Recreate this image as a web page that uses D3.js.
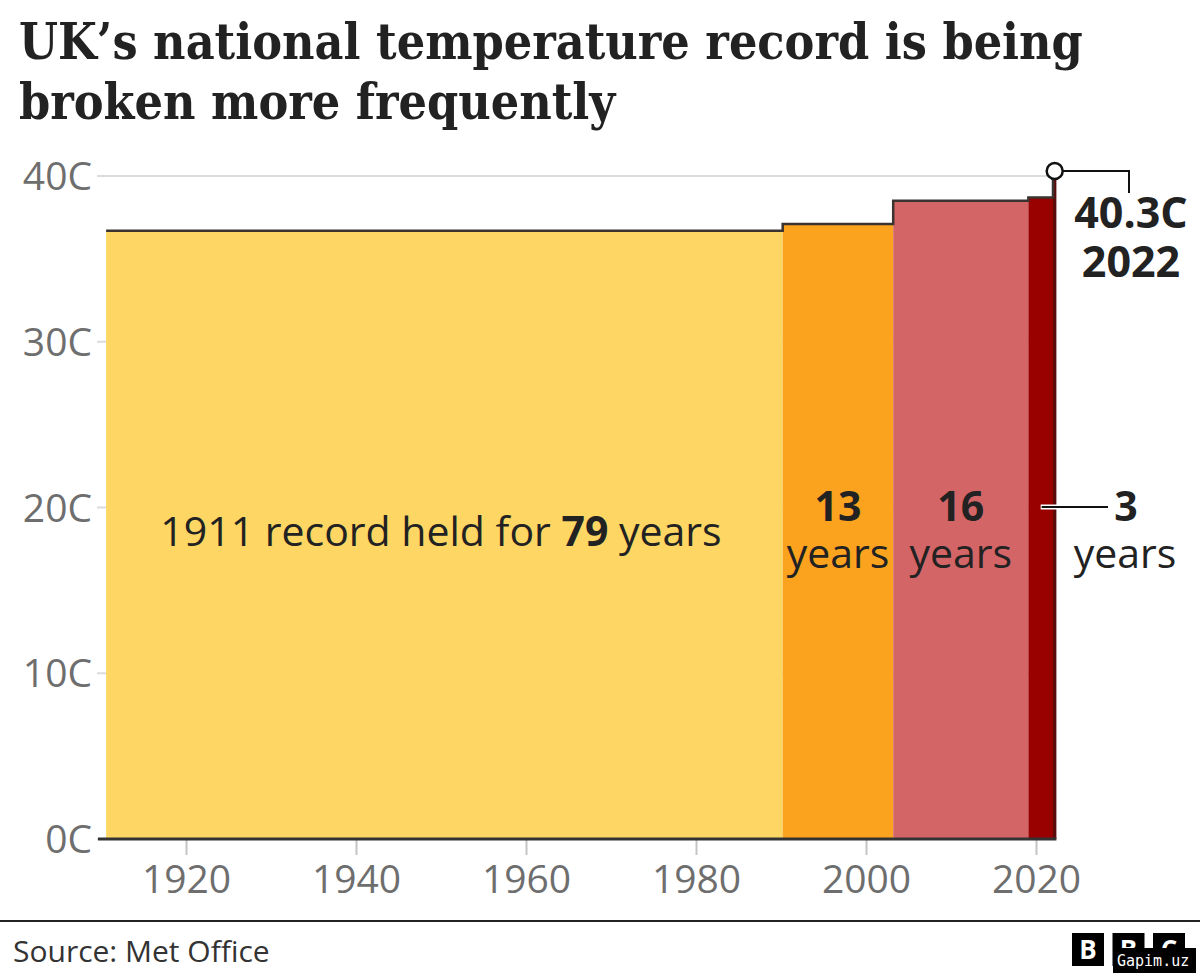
<!DOCTYPE html>
<html>
<head>
<meta charset="utf-8">
<script src="https://cdn.jsdelivr.net/npm/d3@7"></script>
<style>
  body { margin: 0; background: #fff; }
  svg text { font-family: "Open Sans", "Noto Sans", sans-serif; }
</style>
</head>
<body>
<div id="chart"></div>
<script>
// record dates as placed on the chart (decimal years), temps in C
const recordYears = [1910.6, 1990.2, 2003.2, 2019.1, 2022.0];
const recordTemps = [36.7, 37.1, 38.5, 38.7, 40.3];
const heldYears = ["79", "13", "16", "3"];
const endYear = 2022.4;
const blockColors = ["#fdd663", "#fba21f", "#d46567", "#990000", "#5c0b0b"];
const yTicks = [0, 10, 20, 30, 40];
const xTicks = [1920, 1940, 1960, 1980, 2000, 2020];

const width = 1200, height = 978;

const svg = d3.select("#chart")
  .append("svg")
  .attr("width", width)
  .attr("height", height);

const x = d3.scaleLinear().domain([1920, 2020]).range([186, 1036]);
const y = d3.scaleLinear().domain([0, 40]).range([839, 176]);

// title
const title = svg.append("g").attr("class", "title");
const titleLines = ["UK\u2019s national temperature record is being", "broken more frequently"];
titleLines.forEach(function(t, i) {
  title.append("text")
    .attr("x", 19)
    .attr("y", 59 + i * 60)
    .attr("fill", "#222")
    .style("font-family", "'DejaVu Serif Condensed', 'DejaVu Serif', serif")
    .style("font-weight", "bold")
    .style("font-size", "46px")
    .text(t);
});
// fit first line to the width it has in the original
const tLen = title.select("text").node().getComputedTextLength();
title.selectAll("text").style("font-size", (46 * 1064 / tLen) + "px");

// gridlines + y labels
svg.append("g")
  .selectAll("line")
  .data(yTicks)
  .enter()
  .append("line")
    .attr("x1", 97)
    .attr("x2", 1050)
    .attr("y1", d => y(d))
    .attr("y2", d => y(d))
    .attr("stroke", "#dcdcdc")
    .attr("stroke-width", 2);

svg.append("g")
  .selectAll("text")
  .data(yTicks)
  .enter()
  .append("text")
    .attr("x", 92)
    .attr("y", d => y(d) + 14)
    .attr("text-anchor", "end")
    .attr("fill", "#6e6e6e")
    .style("font-size", "39px")
    .text(d => d + "C");

// blocks
const blocks = recordYears.map(function(yr, i) {
  return {
    start: yr,
    end: i < recordYears.length - 1 ? recordYears[i + 1] : endYear,
    temp: recordTemps[i],
    color: blockColors[i]
  };
});

svg.append("g")
  .selectAll("rect")
  .data(blocks)
  .enter()
  .append("rect")
    .attr("x", d => x(d.start))
    .attr("width", d => x(d.end) - x(d.start))
    .attr("y", d => y(d.temp))
    .attr("height", d => y(0) - y(d.temp))
    .attr("fill", d => d.color);

// step line on top
const stepPts = blocks.map(d => [d.start, d.temp]).concat([[endYear, recordTemps[recordTemps.length - 1]]]);
svg.append("path")
  .datum(stepPts)
  .attr("fill", "none")
  .attr("stroke", "#3a3330")
  .attr("stroke-width", 2.5)
  .attr("d", d3.line().x(d => x(d[0])).y(d => y(d[1])).curve(d3.curveStepAfter));

// x axis
const xAxis = svg.append("g")
  .attr("transform", `translate(0, ${y(0)})`)
  .call(d3.axisBottom(x).tickValues(xTicks).tickFormat(d3.format("d")).tickSize(16).tickPadding(10));
xAxis.select(".domain").remove();
xAxis.selectAll(".tick line").attr("stroke", "#c4c4c4").attr("stroke-width", 2);
xAxis.selectAll(".tick text")
  .attr("fill", "#6e6e6e")
  .style("font-size", "39px")
  .style("font-family", "'Open Sans', sans-serif");

svg.append("line")
  .attr("x1", 98)
  .attr("x2", x(endYear))
  .attr("y1", y(0))
  .attr("y2", y(0))
  .attr("stroke", "#333")
  .attr("stroke-width", 3);

// annotations
const ann = svg.append("g").attr("fill", "#222");

const first = ann.append("text")
  .attr("x", 441)
  .attr("y", 546)
  .attr("text-anchor", "middle")
  .style("font-size", "41px");
first.append("tspan").text("1911 record held for ");
first.append("tspan").style("font-weight", "bold").text(heldYears[0]);
first.append("tspan").text(" years");

[1, 2].forEach(function(i) {
  const cx = (x(blocks[i].start) + x(blocks[i].end)) / 2;
  ann.append("text")
    .attr("x", cx).attr("y", 521)
    .attr("text-anchor", "middle")
    .style("font-size", "41px").style("font-weight", "bold")
    .text(heldYears[i]);
  ann.append("text")
    .attr("x", cx).attr("y", 568)
    .attr("text-anchor", "middle")
    .style("font-size", "41px")
    .text("years");
});

// 3 years leader
const redMid = (x(blocks[3].start) + x(blocks[3].end)) / 2;
svg.append("line")
  .attr("x1", redMid).attr("x2", 1108)
  .attr("y1", 507).attr("y2", 507)
  .attr("stroke", "#fff").attr("stroke-width", 5);
svg.append("line")
  .attr("x1", redMid + 1).attr("x2", 1108)
  .attr("y1", 507).attr("y2", 507)
  .attr("stroke", "#111").attr("stroke-width", 2);
ann.append("text")
  .attr("x", 1126).attr("y", 521)
  .attr("text-anchor", "middle")
  .style("font-size", "41px").style("font-weight", "bold")
  .text(heldYears[3]);
ann.append("text")
  .attr("x", 1125).attr("y", 568)
  .attr("text-anchor", "middle")
  .style("font-size", "41px")
  .text("years");

// latest record marker
const lastX = x((recordYears[4] + endYear) / 2);
const lastY = y(recordTemps[4]);
svg.append("path")
  .attr("d", `M${lastX},${lastY}H1129V193`)
  .attr("fill", "none")
  .attr("stroke", "#111")
  .attr("stroke-width", 2);
svg.append("circle")
  .attr("cx", lastX).attr("cy", lastY).attr("r", 8)
  .attr("fill", "#fff")
  .attr("stroke", "#111")
  .attr("stroke-width", 2.5);
ann.append("text")
  .attr("x", 1131).attr("y", 228)
  .attr("text-anchor", "middle")
  .style("font-size", "43px").style("font-weight", "bold")
  .text(recordTemps[4] + "C");
ann.append("text")
  .attr("x", 1131).attr("y", 277)
  .attr("text-anchor", "middle")
  .style("font-size", "43px").style("font-weight", "bold")
  .text("2022");

// footer
svg.append("line")
  .attr("x1", 0).attr("x2", width)
  .attr("y1", 921).attr("y2", 921)
  .attr("stroke", "#222").attr("stroke-width", 2);
svg.append("text")
  .attr("x", 13).attr("y", 962)
  .attr("fill", "#333")
  .style("font-size", "30px")
  .text("Source: Met Office");

const logo = svg.append("g");
["B", "B", "C"].forEach(function(l, i) {
  logo.append("rect")
    .attr("x", 1072 + i * 40.5).attr("y", 933)
    .attr("width", 32).attr("height", 33)
    .attr("fill", "#000");
  logo.append("text")
    .attr("x", 1088 + i * 40.5).attr("y", 959)
    .attr("text-anchor", "middle")
    .attr("fill", "#fff")
    .style("font-size", "26px").style("font-weight", "bold")
    .text(l);
});
logo.append("rect")
  .attr("x", 1113).attr("y", 948)
  .attr("width", 83).attr("height", 25)
  .attr("fill", "#000");
logo.append("text")
  .attr("x", 1117).attr("y", 966)
  .attr("fill", "#fff")
  .style("font-family", "'DejaVu Sans Mono', monospace")
  .style("font-size", "15px")
  .text("Gapim.uz");
</script>
</body>
</html>
